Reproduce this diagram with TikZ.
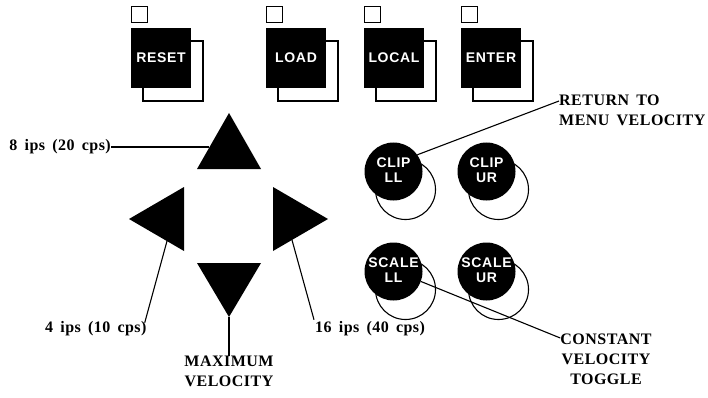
\documentclass[tikz,border=0pt]{standalone}
\usepackage{fontspec}
\setmainfont{Liberation Serif}
\newfontfamily\lblfont[LetterSpace=3,WordSpace=1.6]{Liberation Serif}
\newfontfamily\btnfont[LetterSpace=5]{Liberation Sans}
\begin{document}
\begin{tikzpicture}[x=1pt,y=-1pt,
  lbl/.style={font=\lblfont\bfseries\fontsize{16}{20}\selectfont, inner sep=0pt},
  btntext/.style={font=\btnfont\bfseries\fontsize{14}{15}\selectfont, text=white, inner sep=0pt, align=center},
  keybox/.style={fill=black, minimum width=60pt, minimum height=60pt, inner sep=0pt},
  keyshadow/.style={draw=black, line width=1.4pt, minimum width=60pt, minimum height=60pt, inner sep=0pt},
  lamp/.style={draw=black, line width=0.9pt, minimum size=16pt, inner sep=0pt},
  leader/.style={line width=1.1pt},
  ringback/.style={draw=black, line width=1.1pt, circle, minimum size=60pt, inner sep=0pt},
  ring/.style={fill=black, circle, minimum size=58pt, inner sep=0pt}]
\useasboundingbox (0,0) rectangle (708,398);
% keys
\foreach \cx/\txt/\nm in {161/RESET/reset, 296/LOAD/load, 394/LOCAL/local, 491/ENTER/enter}{
  \node[keyshadow] (\nm s) at (\cx+12,71) {};
  \node[keybox] (\nm) at (\cx,58) {};
  \node[btntext] (\nm t) at (\cx,58) {\txt};
  \node[lamp] (\nm l) at (\cx-22,14) {};
}
% round keys
\foreach \cx/\cy/\a/\b/\nm in {393.5/171.5/CLIP/LL/clipll, 486.5/171.5/CLIP/UR/clipur, 393.5/271.5/SCALE/LL/scalell, 486.5/271.5/SCALE/UR/scaleur}{
  \node[ringback] (\nm s) at (\cx+12,\cy+18) {};
  \node[ring] (\nm) at (\cx,\cy) {};
  \node[btntext] (\nm t) at (\cx,\cy-1) {\a\\\b};
}
% arrow keys
\fill (197,169) coordinate (upbl) -- (229,113) coordinate (uptop) -- (261,169) coordinate (upbr) -- cycle;
\fill (197,263) -- (261,263) -- (229,317) coordinate (dnapex) -- cycle;
\fill (184,187) -- (184,251) coordinate (lfbot) -- (129,219) coordinate (lfapex) -- cycle;
\fill (273,187) -- (273,251) coordinate (rtbot) -- (328,219) coordinate (rtapex) -- cycle;
\coordinate (upedge) at (208.5,147);
\coordinate (lfedge) at (167,241);
\coordinate (rtedge) at (292,240);
% labels
\node[lbl, anchor=east] (l8) at (111,147) {8 ips (20 cps)};
\node[lbl, anchor=base west] (l4) at (45,332) {4 ips (10 cps)};
\node[lbl, anchor=base west] (l16) at (315,332) {16 ips (40 cps)};
\node[lbl, align=center, anchor=north] (lmax) at (229,356) {MAXIMUM\\VELOCITY};
\node[lbl, align=left, anchor=west] (lret) at (559,110) {RETURN TO\\MENU VELOCITY};
\node[lbl, align=center] (lcon) at (606,359) {CONSTANT\\VELOCITY\\TOGGLE};
% leaders
\draw[leader] (l8.east) -- (upedge);
\draw[leader] (l4.north east) ++(-2,2) coordinate (l4end) -- (lfedge);
\draw[leader] (l16.north west) ++(-1,-1) coordinate (l16end) -- (rtedge);
\draw[leader] (dnapex) -- (lmax.north);
\draw[leader] (clipll.35) -- (lret.west |- 0,101) coordinate (retend);
\draw[leader] (scalell.-20) -- (lcon.west |- 0,338) coordinate (conend);
\end{tikzpicture}
\end{document}
